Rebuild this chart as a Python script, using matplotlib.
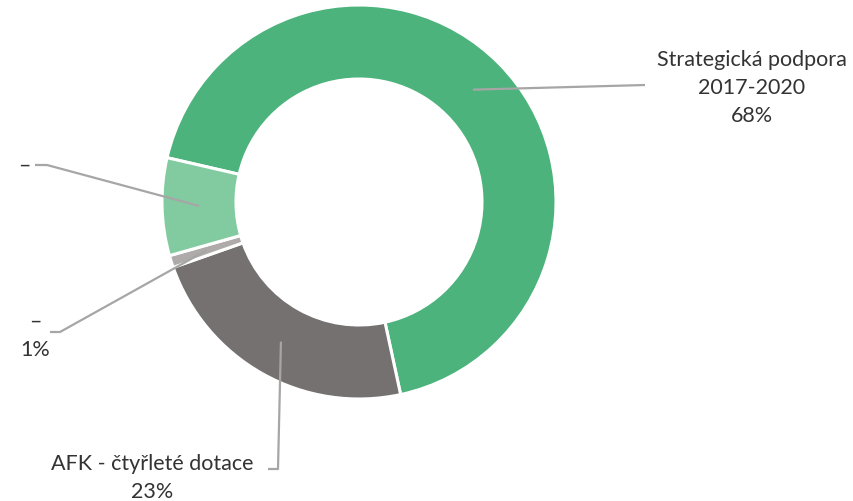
import numpy as np
import matplotlib.pyplot as plt

plt.rcParams['font.family'] = ['Lato', 'DejaVu Sans']

# slice data, clockwise order
names = ['Strategická podpora\n2017-2020', 'AFK - čtyřleté dotace', '–', '–']
shares = [68, 23, 1, 8]
show_pct = [True, True, True, False]
colors = ['#4BB37B', '#767171', '#AFABAB', '#82CBA0']

W, H = 854, 502
fig = plt.figure(figsize=(W / 100, H / 100), dpi=100)
ax = fig.add_axes([0, 0, 1, 1])

cx, cy = 359, H - 203
R, ring = 197, 74
wedges, _ = ax.pie(shares, colors=colors, startangle=167, counterclock=False,
                   center=(cx, cy), radius=R,
                   wedgeprops=dict(width=ring, edgecolor='white', linewidth=2.2))
ax.set_xlim(0, W)
ax.set_ylim(0, H)
ax.set_aspect('equal')
ax.axis('off')

# leader line elbows and label positions (pixel layout, y from top)
elbows = [[(645, 86), (645, 86)],
          [(278, 470), (268, 470)],
          [(60, 333), (50, 333)],
          [(47, 166), (35, 166)]]
label_pos = [(752, 88, 'center'), (152, 478, 'center'), (20, 336, 'left'), (18, 166, 'left')]

line_col = '#A6A6A6'
for w, name, pct, show, elb, lp in zip(wedges, names, shares, show_pct, elbows, label_pos):
    mid = np.deg2rad((w.theta1 + w.theta2) / 2)
    rr = R - ring / 2
    ax_pt = (cx + rr * np.cos(mid), cy + rr * np.sin(mid))
    xs = [ax_pt[0]] + [p[0] for p in elb]
    ys = [ax_pt[1]] + [H - p[1] for p in elb]
    ax.plot(xs, ys, color=line_col, lw=1.6, solid_capstyle='butt')
    txt = name + ('\n%d%%' % pct if show else '')
    x, y, ha = lp
    ax.text(x, H - y, txt, ha=ha, va='center',
            fontsize=15.5, color='#333333', linespacing=1.5, multialignment='center')

fig.savefig('out.png', dpi=100)
